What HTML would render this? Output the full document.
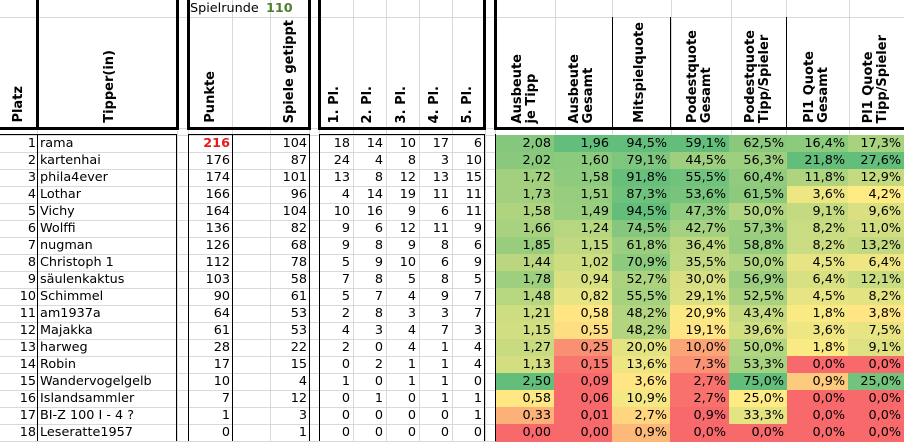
<!DOCTYPE html>
<html><head><meta charset="utf-8">
<style>
body{margin:0;width:904px;height:441px;overflow:hidden;background:#fff;font-family:"DejaVu Sans","Liberation Sans",sans-serif;font-size:12px;color:#000;position:relative}
.a{position:absolute;box-sizing:border-box}
.v{position:absolute;writing-mode:vertical-rl;transform:rotate(180deg);font-weight:bold;font-size:13px;line-height:14px;white-space:nowrap}
.c{position:absolute;box-sizing:border-box;height:17px;line-height:17px;white-space:nowrap;padding:0 3px;font-size:12.8px}
</style></head><body>
<div id="root"></div>
<script>
const names=["rama","kartenhai","phila4ever","Lothar","Vichy","Wolffi","nugman","Christoph 1","säulenkaktus","Schimmel","am1937a","Majakka","harweg","Robin","Wandervogelgelb","Islandsammler","BI-Z 100 I - 4 ?","Leseratte1957"];
const punkte=[216,176,174,166,164,136,126,112,103,90,64,61,28,17,10,7,1,0];
const spiele=[104,87,101,96,104,82,68,78,58,61,53,53,22,15,4,12,3,1];
const pl1=[18,24,13,4,10,9,9,5,7,5,2,4,2,0,1,0,0,0];
const pl2=[14,4,8,14,16,6,8,9,8,7,8,3,0,2,0,1,0,0];
const pl3=[10,8,12,19,9,12,9,10,5,4,3,4,4,1,1,0,0,0];
const pl4=[17,3,13,11,6,11,8,6,8,9,3,7,1,1,1,1,0,0];
const pl5=[6,10,15,11,11,9,6,9,5,7,7,3,4,4,0,1,1,0];
const ausbeuteTipp=[2.08,2.02,1.72,1.73,1.58,1.66,1.85,1.44,1.78,1.48,1.21,1.15,1.27,1.13,2.50,0.58,0.33,0.00];
const ausbeuteGesamt=[1.96,1.60,1.58,1.51,1.49,1.24,1.15,1.02,0.94,0.82,0.58,0.55,0.25,0.15,0.09,0.06,0.01,0.00];
const mitspielquote=[94.5,79.1,91.8,87.3,94.5,74.5,61.8,70.9,52.7,55.5,48.2,48.2,20.0,13.6,3.6,10.9,2.7,0.9];
const podestGesamt=[59.1,44.5,55.5,53.6,47.3,42.7,36.4,35.5,30.0,29.1,20.9,19.1,10.0,7.3,2.7,2.7,0.9,0.0];
const podestTipp=[62.5,56.3,60.4,61.5,50.0,57.3,58.8,50.0,56.9,52.5,43.4,39.6,50.0,53.3,75.0,25.0,33.3,0.0];
const pl1Gesamt=[16.4,21.8,11.8,3.6,9.1,8.2,8.2,4.5,6.4,4.5,1.8,3.6,1.8,0.0,0.9,0.0,0.0,0.0];
const pl1Tipp=[17.3,27.6,12.9,4.2,9.6,11.0,13.2,6.4,12.1,8.2,3.8,7.5,9.1,0.0,25.0,0.0,0.0,0.0];

const root=document.getElementById('root');
function el(cls,x,y,w,h,style,text){const d=document.createElement('div');d.className=cls;d.style.left=x+'px';d.style.top=y+'px';if(w!=null)d.style.width=w+'px';if(h!=null)d.style.height=h+'px';if(style)d.style.cssText+=style;if(text!=null)d.textContent=text;root.appendChild(d);return d;}
const RT=134.5,RH=17;
const gx=[37,177,188,232,270,309,319,353,386,419,452,485,495,555,612,671,731,786,849];
gx.forEach(x=>{const d=el('a',x,0,1,441,'background:#d9d9d9');});
[17,128].concat(Array.from({length:19},(_,i)=>Math.round(RT+i*RH))).forEach(y=>{const d=el('a',0,y,904,1,'background:#d9d9d9');});
const cols=[ausbeuteTipp,ausbeuteGesamt,mitspielquote,podestGesamt,podestTipp,pl1Gesamt,pl1Tipp];
const cx=[495,554,612,670,729,787,848,904];
const scl=[[0,0.6,2.5],[0.1,0.6,1.96],[-4,4,94.5],[1.5,20,59.1],[0,25,75],[0,1.2,21.8],[0,4,27.6]];
const R=[248,105,107],Y=[255,235,132],G=[99,190,123];
function mix(a,b,t){t=Math.max(0,Math.min(1,t));return 'rgb('+a.map((v,i)=>Math.round(v+(b[i]-v)*t)).join(',')+')';}
function color(v,s){return v<=s[1]?mix(R,Y,(v-s[0])/(s[1]-s[0])):mix(Y,G,(v-s[1])/(s[2]-s[1]));}
const colNames=['ausbeute-je-tipp','ausbeute-gesamt','mitspielquote','podestquote-gesamt','podestquote-tipp','pl1-quote-gesamt','pl1-quote-tipp'];
cols.forEach((arr,ci)=>{arr.forEach((v,ri)=>{
 const txt=ci<2?v.toFixed(2).replace('.',','):v.toFixed(1).replace('.',',')+'%';
 const d=el('c',cx[ci],Math.round(RT+ri*RH),cx[ci+1]-cx[ci],RH+1,'text-align:right;background:'+color(v,scl[ci]),txt);
 
 
});});
names.forEach((n,ri)=>{
 const y=Math.round(RT+ri*RH);
 let d=el('c',0,y,38,RH,'text-align:right;padding-right:2px',String(ri+1));
 d=el('c',38,y,139,RH,'padding-left:2px',n);
 d=el('c',188,y,45,RH,'text-align:right'+(ri===0?';color:#e0201f;font-weight:bold':''),String(punkte[ri]));
 d=el('c',232,y,78,RH,'text-align:right',String(spiele[ri]));
 [pl1,pl2,pl3,pl4,pl5].forEach((a,k)=>{const xs=[319,353,386,419,452,485];
  const e=el('c',xs[k],y,xs[k+1]-xs[k],RH,'text-align:right',String(a[ri]));
  
  });
});
function bl(x,y,w,h){const d=el('a',x,y,w,h,'background:#000');}
bl(0,127,177,3);bl(188,127,122,3);bl(319,127,166,3);bl(495,127,409,3);
bl(36,0,3,130);bl(176,0,3,130);bl(187,0,3,130);bl(308,0,3,130);bl(318,0,3,130);bl(483,0,3,130);bl(494,0,3,130);
bl(612,17,1,112);bl(670,17,1,112);bl(786,17,1,112);
bl(0,134,177,1);bl(188,134,122,1);bl(319,134,166,1);
bl(37,134,1,307);bl(176,134,1,307);bl(188,134,1,307);bl(232,134,1,307);bl(309,134,1,307);bl(319,134,1,307);bl(484,134,1,307);bl(495,134,1,307);
let d=el('a',190,1,null,16,'line-height:16px;font-size:12.8px','Spielrunde');
d=el('a',266,1,null,16,'line-height:16px;font-size:12.8px;font-weight:bold;color:#4f7f2f','110');
function vh(cxm,text,name){const d=el('v',0,0,null,null,'',null);d.innerHTML=text;
 const r=d.getBoundingClientRect();d.style.left=(cxm-r.width/2)+'px';d.style.top=(123-r.height)+'px';}
vh(19,'Platz','header-platz');vh(110,'Tipper(in)','header-tipper');vh(211,'Punkte','header-punkte');vh(290,'Spiele getippt','header-spiele-getippt');
['1. Pl.','2. Pl.','3. Pl.','4. Pl.','5. Pl.'].forEach((t,k)=>vh([335,368,402,435,468][k],t,'header-pl'+(k+1)));
const hd=['Ausbeute<br>je Tipp','Ausbeute<br>Gesamt','Mitspielquote','Podestquote<br>Gesamt','Podestquote<br>Tipp/Spieler','Pl1 Quote<br>Gesamt','Pl1 Quote<br>Tipp/Spieler'];
const hx=[525,582,640,700,758,817,876];
hd.forEach((t,k)=>vh(hx[k],t,'header-'+colNames[k]));
</script>
</body></html>
